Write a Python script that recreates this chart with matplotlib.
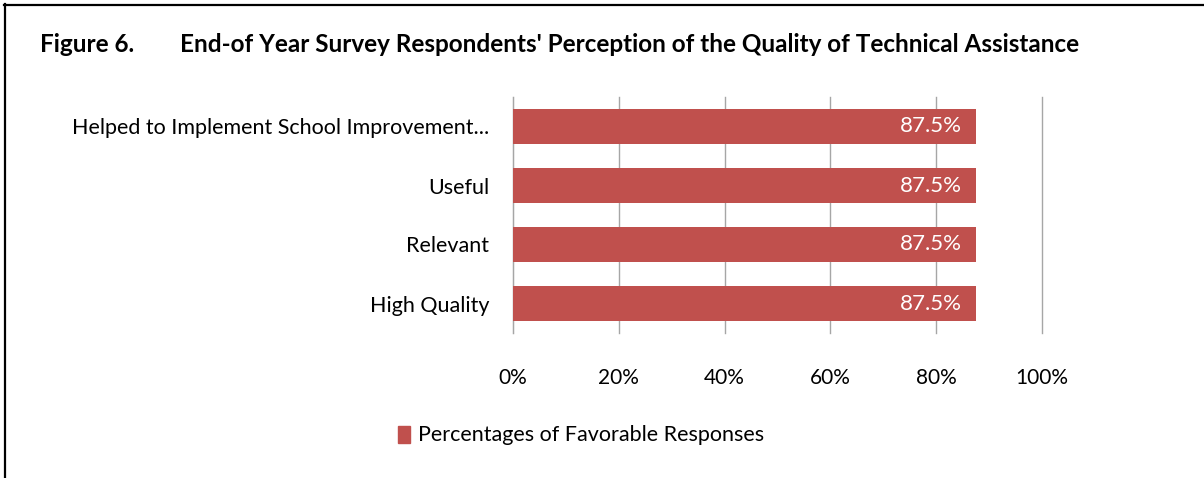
import matplotlib.pyplot as plt
from matplotlib.patches import Rectangle

# chart data
categories = ['High Quality', 'Relevant', 'Useful', 'Helped to Implement School Improvement...']
values = [87.5, 87.5, 87.5, 87.5]
ticks = [0, 20, 40, 60, 80, 100]
tick_labels = ['0%', '20%', '40%', '60%', '80%', '100%']
series_name = 'Percentages of Favorable Responses'
bar_color = '#c0504d'

plt.rcParams['font.family'] = ['Lato', 'DejaVu Sans']

fig = plt.figure(figsize=(12.04, 4.78), dpi=100)

# frame lines (left and top only, as in the cropped source)
fig.add_artist(plt.Line2D([5 / 1204, 5 / 1204], [0, 1 - 4 / 478], color='black', lw=1.6))
fig.add_artist(plt.Line2D([4 / 1204, 1], [1 - 5 / 478, 1 - 5 / 478], color='black', lw=1.6))

fig.text(40 / 1204, 1 - 45 / 478, 'Figure 6.', fontsize=17.5, fontweight='bold', va='center')
fig.text(180 / 1204, 1 - 45 / 478,
         "End-of Year Survey Respondents' Perception of the Quality of Technical Assistance",
         fontsize=17.5, fontweight='bold', va='center')

ax = fig.add_axes([513 / 1204, 1 - 333 / 478, 529 / 1204, 236 / 478])
ax.barh(range(len(categories)), values, height=0.59, color=bar_color, zorder=3)
for i, v in enumerate(values):
    ax.text(v - 2.6, i, f'{v}%', ha='right', va='center', color='white', fontsize=16, zorder=4)

ax.set_xlim(0, 100)
ax.set_ylim(-0.5, len(categories) - 0.5)
ax.set_xticks(ticks)
ax.set_xticklabels(tick_labels, fontsize=15)
ax.set_yticks(range(len(categories)))
ax.set_yticklabels(categories, fontsize=15.5)
ax.tick_params(axis='y', length=0, pad=17)
ax.tick_params(axis='x', length=0, pad=25)
ax.grid(axis='x', color='#a6a6a6', lw=1, zorder=0)
for gl in ax.get_xgridlines():
    gl.set_clip_on(False)
for s in ['top', 'right', 'bottom']:
    ax.spines[s].set_visible(False)
ax.spines['left'].set_color('#a6a6a6')

# legend
fig.add_artist(Rectangle((398 / 1204, 1 - 443 / 478), 12 / 1204, 17 / 478,
                         transform=fig.transFigure, color=bar_color))
fig.text(418 / 1204, 1 - 435 / 478, series_name, fontsize=15.5, va='center')

fig.savefig('out.png', dpi=100)
